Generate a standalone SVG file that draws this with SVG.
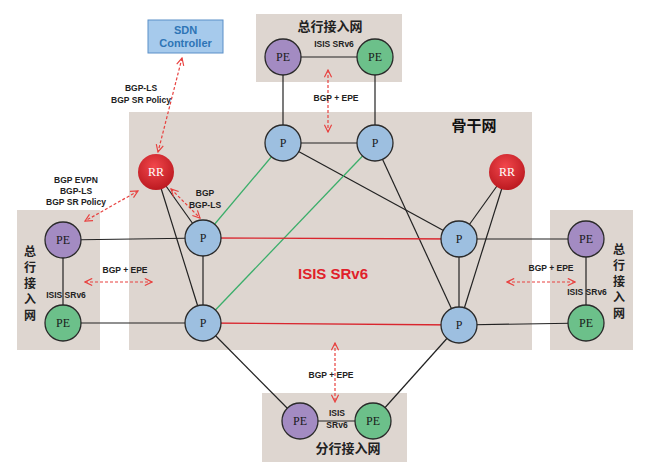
<svg xmlns="http://www.w3.org/2000/svg" width="650" height="473" viewBox="0 0 650 473">
<defs>
<radialGradient id="rrg" cx="0.45" cy="0.35" r="0.7">
<stop offset="0" stop-color="#F2474C"/>
<stop offset="1" stop-color="#B8161D"/>
</radialGradient>
<marker id="ah" viewBox="0 0 10 10" refX="9" refY="5" markerWidth="9" markerHeight="9" orient="auto-start-reverse" markerUnits="userSpaceOnUse">
<path d="M1,1 L9,5 L1,9" fill="none" stroke="#E8413F" stroke-width="1.3"/>
</marker>
<style>
.box{fill:#DED6D0}
.ln{stroke:#222;stroke-width:1.2;fill:none}
.rd{stroke:#D9262E;stroke-width:1.3;fill:none}
.gn{stroke:#3BAE6A;stroke-width:1.3;fill:none}
.da{stroke:#E8413F;stroke-width:1.2;stroke-dasharray:3,2;fill:none;marker-start:url(#ah);marker-end:url(#ah)}
.pe1{fill:#A38BC2;stroke:#2A2A2A;stroke-width:1.3}
.pe2{fill:#6CC08A;stroke:#2A2A2A;stroke-width:1.3}
.p{fill:#9DBFE0;stroke:#2A2A2A;stroke-width:1.3}
.rr{fill:url(#rrg)}
.nt{font-family:"Liberation Serif",serif;font-size:12px;text-anchor:middle;fill:#1a1a1a}
.rt{font-family:"Liberation Serif",serif;font-size:12px;text-anchor:middle;fill:#fff}
.lb{font-family:"Liberation Sans",Arial,sans-serif;font-size:8.5px;font-weight:bold;text-anchor:middle;fill:#222}
.cn{font-family:"Noto Sans CJK SC","Noto Sans",sans-serif;font-size:13px;font-weight:bold;text-anchor:middle;fill:#222}
.cv{font-family:"Noto Sans CJK SC","Noto Sans",sans-serif;font-size:12px;font-weight:bold;text-anchor:middle;fill:#222}
</style>
</defs>
<rect width="650" height="473" fill="#fff"/>
<g id="areas">
<rect class="box" x="129" y="112" width="403" height="238"/>
<rect class="box" x="256" y="14" width="146" height="68"/>
<rect class="box" x="17" y="210" width="83" height="140"/>
<rect class="box" x="550" y="210" width="83" height="140"/>
<rect class="box" x="262" y="393" width="145" height="69"/>
</g>
<g id="area-labels">
<text class="cn" x="330" y="31">总行接入网</text>
<text class="lb" x="334" y="47">ISIS SRv6</text>
<text x="474" y="131" font-family="Liberation Serif,'Noto Sans CJK SC',serif" font-size="15" font-weight="bold" text-anchor="middle" fill="#111">骨干网</text>
<text x="333" y="279" font-family="Liberation Sans,Arial,sans-serif" font-size="15" font-weight="bold" text-anchor="middle" fill="#E0202A">ISIS SRv6</text>
<text class="cv" x="30" y="256">总</text>
<text class="cv" x="30" y="272">行</text>
<text class="cv" x="30" y="288">接</text>
<text class="cv" x="30" y="304">入</text>
<text class="cv" x="30" y="320">网</text>
<text class="cv" x="619" y="254">总</text>
<text class="cv" x="619" y="270">行</text>
<text class="cv" x="619" y="286">接</text>
<text class="cv" x="619" y="302">入</text>
<text class="cv" x="619" y="318">网</text>
<text class="lb" x="66" y="298">ISIS SRv6</text>
<text class="lb" x="587" y="295">ISIS SRv6</text>
<text class="cn" x="348" y="453">分行接入网</text>
<text class="lb" x="337" y="416">ISIS</text>
<text class="lb" x="337" y="428">SRv6</text>
</g>
<g id="connectors">
<line class="ln" x1="283" y1="57" x2="375" y2="57"/>
<line class="ln" x1="283" y1="57" x2="283" y2="143"/>
<line class="ln" x1="375" y1="57" x2="375" y2="143"/>
<line class="ln" x1="283" y1="143" x2="375" y2="143"/>
<line class="ln" x1="283" y1="143" x2="459" y2="239"/>
<line class="ln" x1="375" y1="143" x2="459" y2="325"/>
<line class="gn" x1="283" y1="143" x2="203" y2="238"/>
<line class="gn" x1="375" y1="143" x2="203" y2="323"/>
<line class="rd" x1="203" y1="238" x2="459" y2="239"/>
<line class="rd" x1="203" y1="323" x2="459" y2="325"/>
<line class="ln" x1="203" y1="238" x2="203" y2="323"/>
<line class="ln" x1="459" y1="239" x2="459" y2="325"/>
<line class="ln" x1="156" y1="172" x2="203" y2="238"/>
<line class="ln" x1="156" y1="172" x2="203" y2="323"/>
<line class="ln" x1="507" y1="172" x2="459" y2="239"/>
<line class="ln" x1="507" y1="172" x2="459" y2="325"/>
<line class="ln" x1="63" y1="240" x2="203" y2="238"/>
<line class="ln" x1="63" y1="323" x2="203" y2="323"/>
<line class="ln" x1="63" y1="240" x2="63" y2="323"/>
<line class="ln" x1="586" y1="239" x2="459" y2="239"/>
<line class="ln" x1="586" y1="323" x2="459" y2="325"/>
<line class="ln" x1="586" y1="239" x2="586" y2="323"/>
<line class="ln" x1="203" y1="323" x2="300" y2="421"/>
<line class="ln" x1="459" y1="325" x2="373" y2="421"/>
<line class="ln" x1="300" y1="421" x2="373" y2="421"/>
<line class="da" x1="182" y1="58" x2="158" y2="152"/>
<line class="da" x1="171" y1="189" x2="200" y2="218"/>
<line class="da" x1="138" y1="191" x2="85" y2="221"/>
<line class="da" x1="85" y1="282" x2="152" y2="282"/>
<line class="da" x1="507" y1="282" x2="575" y2="282"/>
<line class="da" x1="328" y1="70" x2="328" y2="132"/>
<line class="da" x1="335" y1="343" x2="335" y2="402"/>
</g>
<g id="connector-labels">
<text class="lb" x="141" y="91">BGP-LS</text>
<text class="lb" x="141" y="103">BGP SR Policy</text>
<text class="lb" x="205" y="196">BGP</text>
<text class="lb" x="205" y="208">BGP-LS</text>
<text class="lb" x="76" y="183">BGP EVPN</text>
<text class="lb" x="76" y="194">BGP-LS</text>
<text class="lb" x="76" y="205">BGP SR Policy</text>
<text class="lb" x="125" y="273">BGP + EPE</text>
<text class="lb" x="551" y="271">BGP + EPE</text>
<text class="lb" x="336" y="101">BGP + EPE</text>
<text class="lb" x="331" y="378">BGP + EPE</text>
</g>
<g id="sdn">
<rect x="148" y="20" width="75" height="33" fill="#A6CAEC" stroke="#5B8FC8" stroke-width="1"/>
<text x="185.5" y="34" font-family="Liberation Sans,Arial,sans-serif" font-size="11" font-weight="bold" text-anchor="middle" fill="#2E75B6">SDN</text>
<text x="185.5" y="47" font-family="Liberation Sans,Arial,sans-serif" font-size="11" font-weight="bold" text-anchor="middle" fill="#2E75B6">Controller</text>
</g>
<g id="pe-top-1"><circle class="pe1" cx="283" cy="57" r="18"/><text class="nt" x="283" y="61">PE</text></g>
<g id="pe-top-2"><circle class="pe2" cx="375" cy="57" r="18"/><text class="nt" x="375" y="61">PE</text></g>
<g id="p-top-1"><circle class="p" cx="283" cy="143" r="18"/><text class="nt" x="283" y="147">P</text></g>
<g id="p-top-2"><circle class="p" cx="375" cy="143" r="18"/><text class="nt" x="375" y="147">P</text></g>
<g id="rr-left"><circle class="rr" cx="156" cy="172" r="18"/><text class="rt" x="156" y="176">RR</text></g>
<g id="rr-right"><circle class="rr" cx="507" cy="172" r="18"/><text class="rt" x="507" y="176">RR</text></g>
<g id="p-left-1"><circle class="p" cx="203" cy="238" r="18"/><text class="nt" x="203" y="242">P</text></g>
<g id="p-left-2"><circle class="p" cx="203" cy="323" r="18"/><text class="nt" x="203" y="327">P</text></g>
<g id="p-right-1"><circle class="p" cx="459" cy="239" r="18"/><text class="nt" x="459" y="243">P</text></g>
<g id="p-right-2"><circle class="p" cx="459" cy="325" r="18"/><text class="nt" x="459" y="329">P</text></g>
<g id="pe-left-1"><circle class="pe1" cx="63" cy="240" r="18"/><text class="nt" x="63" y="244">PE</text></g>
<g id="pe-left-2"><circle class="pe2" cx="63" cy="323" r="18"/><text class="nt" x="63" y="327">PE</text></g>
<g id="pe-right-1"><circle class="pe1" cx="586" cy="239" r="18"/><text class="nt" x="586" y="243">PE</text></g>
<g id="pe-right-2"><circle class="pe2" cx="586" cy="323" r="18"/><text class="nt" x="586" y="327">PE</text></g>
<g id="pe-bottom-1"><circle class="pe1" cx="300" cy="421" r="18"/><text class="nt" x="300" y="425">PE</text></g>
<g id="pe-bottom-2"><circle class="pe2" cx="373" cy="421" r="18"/><text class="nt" x="373" y="425">PE</text></g>
</svg>
